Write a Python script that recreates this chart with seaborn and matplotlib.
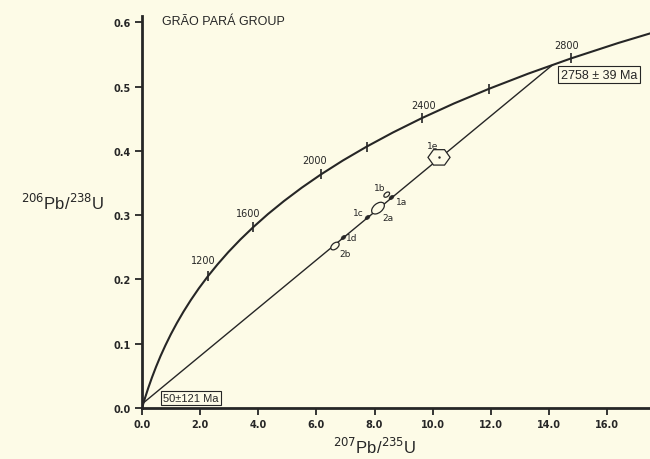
import pandas as pd
import seaborn as sns
import matplotlib.pyplot as plt
from matplotlib.path import Path
from matplotlib.patches import Polygon
from matplotlib.transforms import Affine2D

# ----------------------
# DATA
# ----------------------
# concordia curve: age (Ma), 207Pb/235U, 206Pb/238U
conc_age = [0, 100, 200, 300, 400, 500, 600, 700, 800, 900, 1000,
            1100, 1200, 1300, 1400, 1500, 1600, 1700, 1800, 1900, 2000,
            2100, 2200, 2300, 2400, 2500, 2600, 2700, 2800, 2900, 3000]
conc_x = [0.0, 0.1035, 0.2177, 0.3437, 0.4828, 0.6363, 0.8056, 0.9925,
          1.1987, 1.4263, 1.6774, 1.9545, 2.2603, 2.5977, 2.9701, 3.3810,
          3.8344, 4.3348, 4.8869, 5.4962, 6.1685, 6.9105, 7.7292, 8.6326,
          9.6296, 10.7297, 11.9437, 13.2834, 14.7617, 16.3930, 18.1931]
conc_y = [0.0, 0.0156, 0.0315, 0.0476, 0.0640, 0.0807, 0.0975, 0.1147,
          0.1321, 0.1498, 0.1678, 0.1861, 0.2046, 0.2234, 0.2426, 0.2620,
          0.2817, 0.3018, 0.3221, 0.3428, 0.3638, 0.3851, 0.4067, 0.4287,
          0.4511, 0.4738, 0.4968, 0.5202, 0.5440, 0.5681, 0.5926]

tick_ages = [1200, 1600, 2000, 2200, 2400, 2600, 2800]
label_ages = [1200, 1600, 2000, 2400, 2800]

# discordia: lower and upper intercept
disc_x = [0.05, 14.13]
disc_y = [0.008, 0.534]
intercept_text = ['50±121 Ma', '2758 ± 39 Ma']

# zircon fractions
frac = ['1a', '1b', '1c', '1d', '1e', '2a', '2b']
frac_x = [8.58, 8.42, 7.74, 6.92, 10.22, 8.12, 6.64]
frac_y = [0.328, 0.332, 0.297, 0.266, 0.390, 0.311, 0.252]
frac_dx = [0.07, 0.10, 0.06, 0.06, 0.38, 0.17, 0.12]   # half widths
frac_dy = [0.003, 0.004, 0.002, 0.002, 0.012, 0.007, 0.005]

# ----------------------
# STYLE
# ----------------------
BG = '#fdfbe7'
INK = '#262626'

sns.set_theme(style='ticks', rc={'figure.facecolor': BG, 'axes.facecolor': BG})
plt.rcParams['font.family'] = ['Liberation Sans', 'DejaVu Sans']

fig = plt.figure(figsize=(6.5, 4.6), dpi=100)
ax = fig.add_axes([0.2185, 0.111, 0.7815, 0.852])

conc = pd.DataFrame({'x': conc_x, 'y': conc_y, 'age': conc_age})
disc = pd.DataFrame({'x': disc_x, 'y': disc_y})
pts = pd.DataFrame({'x': frac_x, 'y': frac_y, 'dx': frac_dx, 'dy': frac_dy, 'name': frac})

sns.lineplot(data=conc, x='x', y='y', sort=False, color=INK, lw=1.5, ax=ax)
sns.lineplot(data=disc, x='x', y='y', sort=False, color=INK, lw=1.0, ax=ax)

# age ticks on concordia
ticks = conc[conc['age'].isin(tick_ages)]
sns.scatterplot(data=ticks, x='x', y='y', marker='|', s=50, color=INK,
                linewidth=1.2, ax=ax, zorder=4)
lab_off = {1200: (-4, 11), 1600: (-5, 9), 2000: (-7, 9), 2400: (2, 8), 2800: (-4, 8)}
for _, r in conc[conc['age'].isin(label_ages)].iterrows():
    ax.annotate(str(int(r['age'])), (r['x'], r['y']), xytext=lab_off[int(r['age'])],
                textcoords='offset pixels', ha='center', va='bottom',
                fontsize=7, color=INK, family='DejaVu Sans')

# fractions: 1e as error hexagon, the rest as small ellipses / dots
ell = Path.unit_circle().transformed(Affine2D().scale(1.0, 0.6).rotate_deg(40))
for _, r in pts.iterrows():
    if r['name'] == '1e':
        hx = [r['x'] - r['dx'], r['x'] - r['dx'] * 0.5, r['x'] + r['dx'] * 0.5,
              r['x'] + r['dx'], r['x'] + r['dx'] * 0.5, r['x'] - r['dx'] * 0.5]
        hy = [r['y'], r['y'] + r['dy'], r['y'] + r['dy'],
              r['y'], r['y'] - r['dy'], r['y'] - r['dy']]
        ax.add_patch(Polygon(list(zip(hx, hy)), closed=True, facecolor=BG,
                             edgecolor=INK, lw=0.9, zorder=5))
        ax.plot(r['x'], r['y'], '.', ms=1.5, color=INK, zorder=6)
filled = pts[pts['name'].isin(['1a', '1c', '1d'])]
opened = pts[pts['name'].isin(['1b', '2a', '2b'])]
sns.scatterplot(data=filled, x='x', y='y', marker=ell, s=14, color=INK,
                edgecolor=INK, ax=ax, zorder=6)
sns.scatterplot(data=opened, x='x', y='y', marker=ell, size='dx',
                sizes=(18, 90), facecolor=BG, edgecolor=INK, linewidth=0.9,
                legend=False, ax=ax, zorder=5)

frac_off = {'1e': (-6, 12), '1b': (-7, 7), '1a': (10, -4), '1c': (-9, 5),
            '2a': (10, -9), '1d': (9, 0), '2b': (10, -7)}
for _, r in pts.iterrows():
    ax.annotate(r['name'], (r['x'], r['y']), xytext=frac_off[r['name']],
                textcoords='offset pixels', ha='center', va='center',
                fontsize=6.5, color=INK, family='DejaVu Sans')

# intercept boxes
box = dict(boxstyle='square,pad=0.2', facecolor=BG, edgecolor=INK, lw=0.8)
ax.annotate(intercept_text[0], (disc_x[0], disc_y[0]), xytext=(20, 0),
            textcoords='offset pixels', ha='left', va='bottom', fontsize=8,
            color=INK, bbox=box)
ax.annotate(intercept_text[1], (disc_x[1], disc_y[1]), xytext=(8, -10),
            textcoords='offset pixels', ha='left', va='center', fontsize=9,
            color=INK, bbox=box)

ax.text(0.039, 0.987, 'GRÃO PARÁ GROUP', transform=ax.transAxes, ha='left',
        va='center', fontsize=9, color=INK)

# axes
ax.set_xlim(0, 17.48)
ax.set_ylim(0, 0.61)
ax.set_xticks([0, 2, 4, 6, 8, 10, 12, 14, 16])
ax.set_xticklabels(['0.0', '2.0', '4.0', '6.0', '8.0', '10.0', '12.0', '14.0', '16.0'])
ax.set_yticks([0, 0.1, 0.2, 0.3, 0.4, 0.5, 0.6])
ax.set_yticklabels(['0.0', '0.1', '0.2', '0.3', '0.4', '0.5', '0.6'])
ax.tick_params(length=5, width=1.3, colors=INK, labelsize=7, pad=3)
for lab in ax.get_xticklabels() + ax.get_yticklabels():
    lab.set_fontweight('bold')
    lab.set_family('DejaVu Sans')
sns.despine(ax=ax)
for s in ['left', 'bottom']:
    ax.spines[s].set_linewidth(2.0)
    ax.spines[s].set_color(INK)

ax.set_xlabel(r'$^{207}$Pb/$^{235}$U', fontsize=12, color=INK)
ax.set_ylabel(r'$^{206}$Pb/$^{238}$U', fontsize=12, color=INK, rotation=0)
ax.xaxis.set_label_coords(0.459, -0.072)
ax.yaxis.set_label_coords(-0.157, 0.5)

fig.savefig('out.png', dpi=100, facecolor=BG)
